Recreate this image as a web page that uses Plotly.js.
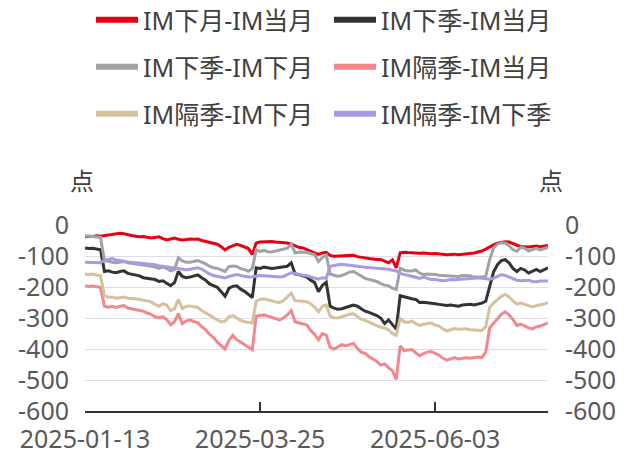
<!DOCTYPE html>
<html>
<head>
<meta charset="utf-8">
<script src="https://cdn.plot.ly/plotly-3.0.1.min.js"></script>
<style>html,body{margin:0;padding:0;background:#fff;}#chart{width:632px;height:453px;}</style>
</head>
<body>
<div id="chart"></div>
<script>
const dates = [
'2025-01-13','2025-01-14','2025-01-15','2025-01-16','2025-01-17',
'2025-01-20','2025-01-21','2025-01-22','2025-01-23','2025-01-24',
'2025-01-27','2025-02-05','2025-02-06','2025-02-07','2025-02-10',
'2025-02-11','2025-02-12','2025-02-13','2025-02-14','2025-02-17',
'2025-02-18','2025-02-19','2025-02-20','2025-02-21','2025-02-24',
'2025-02-25','2025-02-26','2025-02-27','2025-02-28','2025-03-03',
'2025-03-04','2025-03-05','2025-03-06','2025-03-07','2025-03-10',
'2025-03-11','2025-03-12','2025-03-13','2025-03-14','2025-03-17',
'2025-03-18','2025-03-19','2025-03-20','2025-03-21','2025-03-24',
'2025-03-25','2025-03-26','2025-03-27','2025-03-28','2025-03-31',
'2025-04-01','2025-04-02','2025-04-03','2025-04-07','2025-04-08',
'2025-04-09','2025-04-10','2025-04-11','2025-04-14','2025-04-15',
'2025-04-16','2025-04-17','2025-04-18','2025-04-21','2025-04-22',
'2025-04-23','2025-04-24','2025-04-25','2025-04-28','2025-04-29',
'2025-04-30','2025-05-06','2025-05-07','2025-05-08','2025-05-09',
'2025-05-12','2025-05-13','2025-05-14','2025-05-15','2025-05-16',
'2025-05-19','2025-05-20','2025-05-21','2025-05-22','2025-05-23',
'2025-05-26','2025-05-27','2025-05-28','2025-05-29','2025-05-30',
'2025-06-03','2025-06-04','2025-06-05','2025-06-06','2025-06-09',
'2025-06-10','2025-06-11','2025-06-12','2025-06-13','2025-06-16',
'2025-06-17','2025-06-18','2025-06-19','2025-06-20','2025-06-23',
'2025-06-24','2025-06-25','2025-06-26','2025-06-27','2025-06-30',
'2025-07-01','2025-07-02','2025-07-03','2025-07-04','2025-07-07',
'2025-07-08','2025-07-09','2025-07-10','2025-07-11','2025-07-14'
];

// IM下月-IM当月
const nextMonthVsCur = [
-38,-36,-37,-35,-36, -34,-32,-30,-28,-27, -28,-32,-34,-36,-38, -37,-40,-42,-40,-38,
-44,-48,-45,-42,-46, -48,-47,-45,-46,-45, -50,-53,-55,-58,-62, -70,-80,-72,-66,-62,
-66,-70,-76,-95,-58, -55,-54,-52,-53,-55, -56,-58,-58,-62,-68, -72,-74,-80,-86,-90,
-95,-90,-88,-98,-101, -100,-99,-100,-98,-98, -102,-105,-106,-108,-110, -111,-111,-116,-122,-112,
-138,-90,-88,-89,-90, -90,-91,-90,-92,-93, -92,-94,-95,-96,-95, -94,-96,-95,-93,-92,
-90,-87,-84,-78,-70, -64,-59,-56,-54,-55, -60,-65,-70,-70,-71, -69,-68,-70,-68,-66
];
// IM下季-IM当月
const nextQtrVsCur = [
-74,-76,-75,-77,-80, -150,-148,-152,-154,-150, -148,-156,-159,-162,-164, -170,-172,-175,-176,-182,
-180,-188,-196,-186,-150, -166,-170,-168,-165,-161, -170,-178,-190,-196,-201, -215,-230,-204,-198,-196,
-207,-214,-225,-234,-138, -140,-136,-138,-140,-139, -137,-135,-133,-122,-158, -160,-163,-168,-178,-185,
-215,-195,-185,-262,-268, -272,-270,-265,-262,-258, -262,-270,-278,-282,-286, -292,-300,-318,-306,-322,
-336,-228,-232,-236,-238, -240,-250,-249,-250,-253, -254,-256,-258,-260,-258, -260,-262,-258,-257,-256,
-258,-256,-252,-246,-195, -152,-128,-115,-112,-122, -140,-150,-140,-145,-155, -148,-143,-150,-145,-138
];
// IM下季-IM下月
const nextQtrVsNextMonth = [
-35,-36,-36,-38,-40, -116,-116,-120,-122,-120, -118,-122,-124,-125,-126, -130,-132,-133,-135,-140,
-136,-140,-148,-144,-106, -116,-120,-120,-117,-115, -120,-125,-133,-138,-140, -145,-150,-134,-132,-134,
-141,-144,-149,-140,-80, -85,-82,-86,-87,-84, -81,-77,-75,-62,-90, -88,-89,-88,-92,-95,
-118,-105,-97,-158,-162, -165,-163,-158,-152,-150, -158,-166,-172,-176,-178, -182,-189,-194,-196,-204,
-208,-140,-145,-148,-148, -145,-155,-160,-158,-158, -160,-162,-163,-164,-163, -166,-166,-163,-164,-164,
-168,-169,-168,-166,-112, -74,-62,-57,-58,-67, -80,-85,-72,-75,-84, -79,-75,-80,-77,-72
];
// IM隔季-IM当月
const farQtrVsCur = [
-196,-198,-197,-200,-202, -262,-265,-262,-266,-262, -260,-268,-270,-272,-276, -278,-284,-288,-296,-300,
-296,-305,-322,-312,-286, -318,-310,-306,-312,-315, -328,-338,-352,-362,-378, -390,-400,-372,-356,-370,
-378,-386,-392,-402,-294, -292,-290,-294,-298,-302, -306,-300,-290,-276,-312, -316,-318,-322,-340,-352,
-370,-350,-355,-395,-400, -392,-386,-390,-385,-382, -398,-410,-414,-425,-432, -440,-452,-448,-460,-470,
-498,-390,-405,-404,-402, -412,-422,-415,-410,-408, -415,-420,-430,-436,-432, -428,-432,-430,-428,-430,
-428,-426,-428,-410,-332, -318,-305,-288,-280,-290, -305,-324,-320,-326,-332, -335,-328,-326,-322,-316
];
// IM隔季-IM下月
const farQtrVsNextMonth = [
-158,-160,-158,-162,-163, -228,-233,-232,-236,-235, -232,-236,-236,-238,-240, -242,-244,-248,-256,-262,
-254,-258,-277,-270,-240, -270,-263,-261,-264,-266, -276,-284,-292,-298,-306, -313,-310,-296,-292,-300,
-308,-312,-314,-316,-246, -240,-238,-242,-246,-248, -250,-244,-232,-220,-244, -244,-246,-248,-254,-265,
-280,-262,-258,-294,-299, -300,-297,-292,-288,-286, -296,-304,-308,-314,-320, -324,-330,-332,-338,-350,
-356,-302,-312,-314,-310, -318,-324,-320,-318,-316, -323,-326,-335,-342,-338, -334,-336,-335,-335,-338,
-338,-339,-340,-328,-266, -252,-240,-230,-224,-232, -245,-255,-252,-256,-260, -264,-260,-258,-255,-250
];
// IM隔季-IM下季
const farQtrVsNextQtr = [
-120,-121,-120,-122,-122, -114,-110,-108,-113,-116, -117,-119,-120,-121,-122, -123,-125,-127,-128,-131,
-133,-134,-136,-137,-140, -143,-144,-143,-140,-138, -142,-150,-158,-163,-166, -170,-171,-166,-162,-160,
-163,-166,-168,-167,-164, -163,-164,-165,-164,-166, -168,-166,-160,-154,-156, -160,-162,-164,-168,-172,
-175,-170,-172,-133,-130, -128,-127,-129,-130,-131, -133,-135,-136,-137,-138, -139,-140,-141,-143,-146,
-148,-155,-160,-162,-165, -170,-172,-168,-172,-176, -176,-178,-180,-178,-176, -177,-176,-175,-174,-175,
-172,-170,-172,-174,-175, -172,-165,-160,-163,-168, -174,-178,-180,-180,-178, -182,-183,-181,-180,-181
];

const seriesNames = ['IM下月-IM当月','IM下季-IM当月','IM下季-IM下月','IM隔季-IM当月','IM隔季-IM下月','IM隔季-IM下季'];
const seriesValues = [nextMonthVsCur, nextQtrVsCur, nextQtrVsNextMonth, farQtrVsCur, farQtrVsNextMonth, farQtrVsNextQtr];
const seriesColors = ['#E60012','#333333','#A0A3A6','#F4878D','#D5C19C','#A99BE3'];
const yTicks = [0,-100,-200,-300,-400,-500,-600];
const unitLabel = '点';

const FONT = '"Noto Sans", "Noto Sans CJK SC", sans-serif';
const legendIds = ['legend','legend2','legend3','legend4','legend5','legend6'];
// legend grid: 2 columns x 3 rows (pixel anchors in the 632x453 canvas)
const legendColX = [91, 329];
const legendRowY = [20, 67, 114];

const traces = [];
seriesValues.forEach((vals, k) => {
  traces.push({
    type: 'scatter', mode: 'lines', x: dates, y: vals, name: seriesNames[k],
    line: {color: seriesColors[k], width: 3}, showlegend: false, hoverinfo: 'skip'
  });
});
seriesValues.forEach((vals, k) => {
  traces.push({
    type: 'scatter', mode: 'lines', x: [null], y: [null], name: seriesNames[k],
    line: {color: seriesColors[k], width: 6}, showlegend: true, legend: legendIds[k], hoverinfo: 'skip'
  });
});
// invisible trace to anchor the right-hand axis
traces.push({type:'scatter', mode:'lines', x: dates, y: nextMonthVsCur, yaxis:'y2', line:{width:0, color:'rgba(0,0,0,0)'}, showlegend:false, hoverinfo:'skip'});

const tickIdx = [0, 45, 90, dates.length - 1];
const layout = {
  width: 632, height: 453,
  margin: {l: 85, r: 84, t: 225, b: 42},
  paper_bgcolor: '#fff', plot_bgcolor: '#fff',
  font: {family: FONT, size: 25, color: '#595959'},
  showlegend: true,
  xaxis: {
    type: 'category', range: [0, dates.length - 1],
    tickmode: 'array', tickvals: tickIdx.map(i => dates[i]), ticktext: tickIdx.map((i, j) => j === 3 ? '' : dates[i]),
    ticks: 'inside', ticklen: 9, tickwidth: 1.5, tickcolor: '#333',
    showline: true, linecolor: '#333', linewidth: 1.5, showgrid: false, zeroline: false,
    tickfont: {family: FONT, size: 25, color: '#595959'}, ticklabelstandoff: 5
  },
  yaxis: {
    range: [-600, 0], tickmode: 'array', tickvals: yTicks, ticktext: yTicks.map(String),
    showgrid: true, gridcolor: '#DCE0EA', gridwidth: 1, zeroline: false, showline: false,
    ticks: '', tickfont: {family: FONT, size: 25, color: '#595959'}, ticklabelstandoff: 15
  },
  yaxis2: {
    overlaying: 'y', side: 'right', range: [-600, 0], tickmode: 'array', tickvals: yTicks, ticktext: yTicks.map(String),
    showgrid: false, zeroline: false, showline: false, ticks: '',
    tickfont: {family: FONT, size: 25, color: '#595959'}, ticklabelstandoff: 16
  },
  annotations: [
    {text: unitLabel, xref: 'paper', yref: 'paper', x: -0.006, y: (411 - 180) / 186, xanchor: 'center', yanchor: 'middle', showarrow: false, font: {family: FONT, size: 24, color: '#404040'}},
    {text: unitLabel, xref: 'paper', yref: 'paper', x: 1.006, y: (411 - 180) / 186, xanchor: 'center', yanchor: 'middle', showarrow: false, font: {family: FONT, size: 24, color: '#404040'}}
  ]
};
legendIds.forEach((id, k) => {
  layout[id] = {
    orientation: 'h', xref: 'container', yref: 'container', xanchor: 'left', yanchor: 'middle',
    x: legendColX[k % 2] / 632, y: 1 - legendRowY[Math.floor(k / 2)] / 453,
    itemwidth: 42, font: {family: FONT, size: 25, color: '#404040'}, bgcolor: 'rgba(0,0,0,0)'
  };
});
Plotly.newPlot('chart', traces, layout, {staticPlot: true, displayModeBar: false});
</script>
</body>
</html>
